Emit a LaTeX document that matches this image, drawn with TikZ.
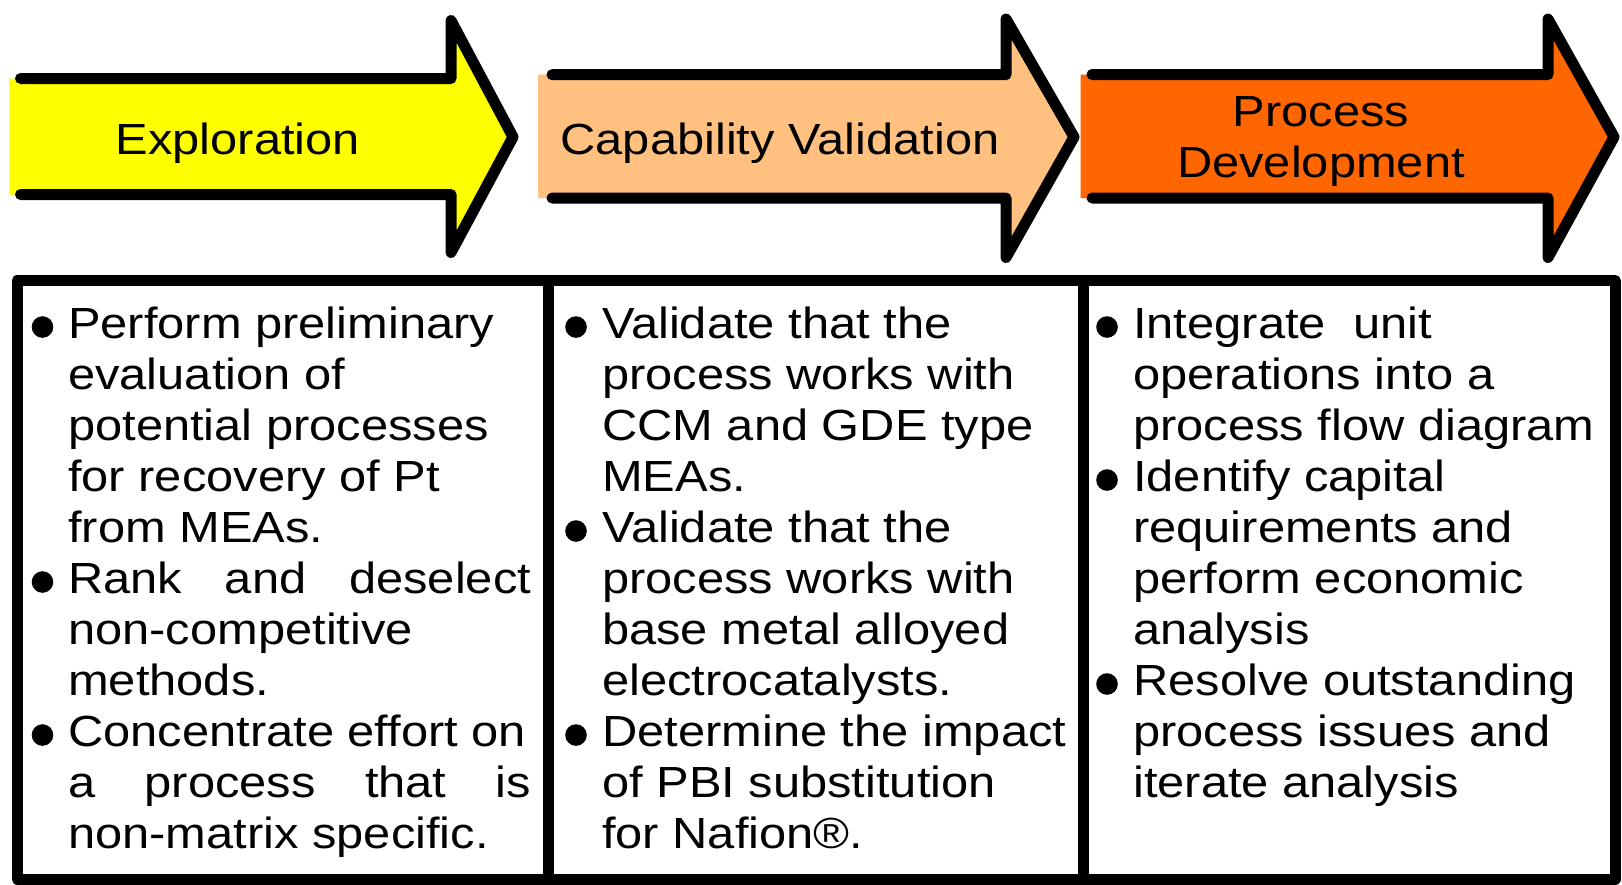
\documentclass[tikz,border=0pt]{standalone}
\usepackage{fontspec}
\setmainfont{Liberation Sans}[FakeStretch=1.12]
\definecolor{explcol}{RGB}{255,255,0}
\definecolor{capcol}{RGB}{255,192,128}
\definecolor{proccol}{RGB}{255,102,0}
\tikzset{
  outline/.style={line width=11pt, line join=round, line cap=round, draw=black},
  lbl/.style={inner sep=0pt, font=\fontsize{43.6}{51}\selectfont},
  coltext/.style={inner sep=0pt, anchor=north west, align=left, font=\fontsize{43.6}{51}\selectfont},
  bulletdot/.style={fill=black}
}
\newcommand\jline[1]{\makebox[463pt][s]{#1}}
\newcommand\topstrut{\rule{0pt}{35pt}}
\begin{document}
\begin{tikzpicture}[x=1pt,y=-1pt]
\useasboundingbox (0,0) rectangle (1622,884);
% ---- arrow 1: Exploration
\fill[explcol] (9.3,78.5) -- (451,78.5) -- (451,20.5) -- (513,137) -- (451,252.5) -- (451,194.5) -- (9.3,194.5) -- cycle;
\draw[outline] (20.5,78.5) -- (451,78.5) -- (451,20.5) -- (513,137) -- (451,252.5) -- (451,194.5) -- (20.5,194.5);
% ---- arrow 2: Capability Validation
\fill[capcol] (538,74.7) -- (1006,74.7) -- (1006,19) -- (1074,137) -- (1006,257.5) -- (1006,198) -- (538,198) -- cycle;
\draw[outline] (552,74.7) -- (1006,74.7) -- (1006,19) -- (1074,137) -- (1006,257.5) -- (1006,198) -- (552,198);
% ---- arrow 3: Process Development
\fill[proccol] (1080.7,74.5) -- (1548,74.5) -- (1548,19) -- (1614,137) -- (1548,257.5) -- (1548,198) -- (1080.7,198) -- cycle;
\draw[outline] (1092,74.5) -- (1548,74.5) -- (1548,19) -- (1614,137) -- (1548,257.5) -- (1548,198) -- (1092,198);
% ---- arrow labels
\node[lbl, anchor=base] (explo) at (238,154) {Exploration};
\node[lbl, anchor=base] (capval) at (780,154) {Capability Validation};
\node[lbl, anchor=north, align=center] (procdev) at (1321,91.7) {\topstrut Process\\Development};
% ---- boxes
\draw[outline, line cap=butt] (17,280.5) rectangle (1615,879);
\draw[outline, line cap=butt] (548,280.5) -- (548,879);
\draw[outline, line cap=butt] (1083,280.5) -- (1083,879);
% ---- column texts
\node[coltext] (col1) at (68,303) {\topstrut Perform preliminary\\
evaluation of\\
potential processes\\
for recovery of Pt\\
from MEAs.\\
\jline{Rank \hfill and \hfill deselect}\\
non-competitive\\
methods.\\
Concentrate effort on\\
\jline{a \hfill process \hfill that \hfill is}\\
non-matrix specific.};
\node[coltext] (col2) at (602,303) {\topstrut Validate that the\\
process works with\\
CCM and GDE type\\
MEAs.\\
Validate that the\\
process works with\\
base metal alloyed\\
electrocatalysts.\\
Determine the impact\\
of PBI substitution\\
for Nafion®.};
\node[coltext] (col3) at (1133,303) {\topstrut Integrate\ \ unit\\
operations into a\\
process flow diagram\\
Identify capital\\
requirements and\\
perform economic\\
analysis\\
Resolve outstanding\\
process issues and\\
iterate analysis};
% ---- bullets
\fill[bulletdot] (42.5,327) circle (10.8);
\fill[bulletdot] (42.5,582) circle (10.8);
\fill[bulletdot] (42.5,735) circle (10.8);
\fill[bulletdot] (576,327) circle (10.8);
\fill[bulletdot] (576,531) circle (10.8);
\fill[bulletdot] (576,735) circle (10.8);
\fill[bulletdot] (1107,327) circle (10.8);
\fill[bulletdot] (1107,480) circle (10.8);
\fill[bulletdot] (1107,684) circle (10.8);
\end{tikzpicture}
\end{document}
